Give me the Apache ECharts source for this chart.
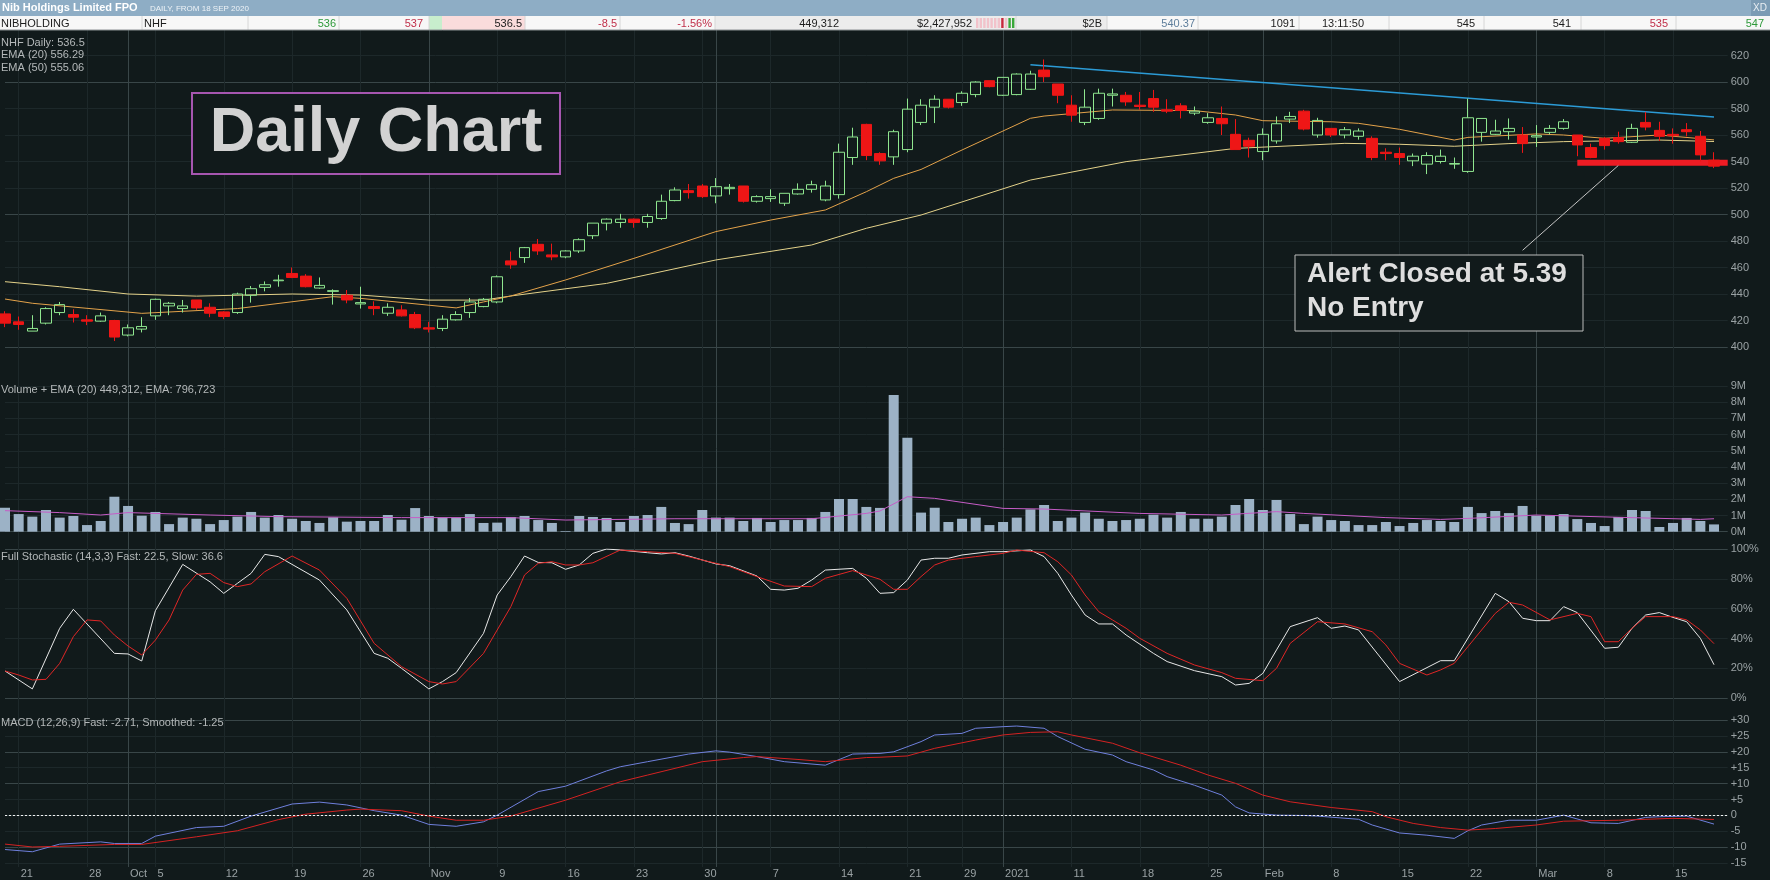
<!DOCTYPE html>
<html>
<head>
<meta charset="utf-8">
<title>NHF Daily Chart</title>
<script src="https://cdn.jsdelivr.net/npm/echarts@6.0.0/dist/echarts.min.js"></script>
<style>
  html, body { margin: 0; padding: 0; background: #111a1b; }
  #chart { width: 1770px; height: 880px; }
</style>
</head>
<body>
<div id="chart"></div>
<script>
// trading days, 18 Sep 2020 - 18 Mar 2021
var dates = [
  '2020-09-18','2020-09-21','2020-09-22','2020-09-23','2020-09-24','2020-09-25','2020-09-28','2020-09-29','2020-09-30',
  '2020-10-01','2020-10-02','2020-10-05','2020-10-06','2020-10-07','2020-10-08','2020-10-09','2020-10-12','2020-10-13','2020-10-14','2020-10-15','2020-10-16',
  '2020-10-19','2020-10-20','2020-10-21','2020-10-22','2020-10-23','2020-10-26','2020-10-27','2020-10-28','2020-10-29','2020-10-30',
  '2020-11-02','2020-11-03','2020-11-04','2020-11-05','2020-11-06','2020-11-09','2020-11-10','2020-11-11','2020-11-12','2020-11-13',
  '2020-11-16','2020-11-17','2020-11-18','2020-11-19','2020-11-20','2020-11-23','2020-11-24','2020-11-25','2020-11-26','2020-11-27','2020-11-30',
  '2020-12-01','2020-12-02','2020-12-03','2020-12-04','2020-12-07','2020-12-08','2020-12-09','2020-12-10','2020-12-11',
  '2020-12-14','2020-12-15','2020-12-16','2020-12-17','2020-12-18','2020-12-21','2020-12-22','2020-12-23','2020-12-24','2020-12-29','2020-12-30','2020-12-31',
  '2021-01-04','2021-01-05','2021-01-06','2021-01-07','2021-01-08','2021-01-11','2021-01-12','2021-01-13','2021-01-14','2021-01-15',
  '2021-01-18','2021-01-19','2021-01-20','2021-01-21','2021-01-22','2021-01-25','2021-01-27','2021-01-28','2021-01-29',
  '2021-02-01','2021-02-02','2021-02-03','2021-02-04','2021-02-05','2021-02-08','2021-02-09','2021-02-10','2021-02-11','2021-02-12',
  '2021-02-15','2021-02-16','2021-02-17','2021-02-18','2021-02-19','2021-02-22','2021-02-23','2021-02-24','2021-02-25','2021-02-26',
  '2021-03-01','2021-03-02','2021-03-03','2021-03-04','2021-03-05','2021-03-08','2021-03-09','2021-03-10','2021-03-11','2021-03-12',
  '2021-03-15','2021-03-16','2021-03-17','2021-03-18'
];

var opens = [425,419,412,418,426,424.5,420.5,419.5,420,409,
  413.5,423.5,431,429,435.5,430,426.5,426,439,445,
  450,455.5,453.5,444.5,442,439,432.5,430.5,425.5,428,
  424.5,414.5,414,420.5,426,430.5,434,465,467.5,477.5,
  469.5,468,472.5,484,493.5,494,496.5,494,497,510.5,
  518,521.5,514,519.5,521.5,510,512,508.5,515.5,519,
  511,515,543,568,546,543.5,549,569.5,581,587,
  584.5,590.5,601,590,590.5,594.5,609,598.5,582.5,569.5,
  572.5,590,590,582.5,587.5,579,582,576.5,569.5,572.5,
  560.5,556,547.5,555.5,572,578,560,565,560,559,
  557.5,547,546,540.5,538,540,538,532.5,562,560.5,
  562.5,560,558.5,562,565,560,550.5,557.5,558,554.5,
  569.5,563.5,560.5,564,559,541];
var highs = [427,423,424,430,434,428.5,424,426,420.5,417,
  422.5,436.5,434,435.5,435.5,433,427,441,446,449.5,
  454.5,460,455,452.5,443.5,443,445.5,434.5,433,431.5,
  426.5,419,424,427,437,437,454,472,475.5,481.5,
  478,473,482,493.5,497,500.5,497,500.5,515,520.5,
  523,523,527.5,523,521.5,514.5,519,516,523.5,525.5,
  525.5,553.5,565.5,568.5,547,564,587.5,587,590,587,
  593,600.5,601,603.5,606.5,608.5,617,598.5,590,594.5,
  595,595,592.5,592.5,594,587,584,581.5,576.5,581.5,
  572,558,565,574,577.5,579,573,565,566,565,
  559,550,550.5,546,547,549,543,587.5,572.5,571.5,
  572.5,566,567.5,567.5,572,560,553.5,558.5,562.5,568.5,
  577.5,570,565,569,563,547];
var lows = [415,413,412,417,424,418.5,416.5,419,404.5,408,
  411,420.5,424,426,428,422.5,421,425,433.5,442,
  445.5,452,445,444,432,433,429,424,423.5,423,
  413.5,411,412,420,422,430,433,459,463.5,469.5,
  465.5,467,471,481.5,488,490,490,490,496,510,
  512,512.5,508.5,515,509,509,509.5,506.5,515,516.5,
  510,512,537.5,541,537.5,537.5,547,567.5,569,580,
  582,588.5,596,589.5,590,594,600,584,570,567.5,
  571.5,581.5,582,579,577.5,576.5,572.5,575,568.5,560,
  549,543,541,553.5,569,563.5,558,558.5,557.5,556.5,
  541,541,537.5,536.5,530.5,538.5,534.5,531.5,555,560,
  556.5,546.5,551,560.5,564,544,542.5,549,553.5,554,
  563.5,555.5,553.5,559,540,535];
var closes = [418,417,414,429,432,422.5,419.5,423.5,407.5,414.5,
  415.5,436,433,431,429.5,425.5,423,440,444,447,
  450.5,452.5,445.5,446.5,442.5,435.5,433.5,429,430,423.5,
  414.5,413.5,421,424.5,434,436,453,462,475,472.5,
  468,472.5,481,493.5,496.5,496.5,494,498.5,510,518.5,
  516.5,513.5,521,520.5,510,513.5,513.5,516,519,522.5,
  521.5,547,558.5,544.5,540.5,562.5,579.5,582.5,587,581,
  591.5,600,596.5,603.5,606,606,604,590,575,581,
  591.5,591,585,581.5,581,578,578.5,578,573,568.5,
  549,551.5,560.5,568.5,574,564.5,571,560,564,563,
  543,546,543,544,544.5,544,538.5,573,572.5,563,
  565,553.5,559.5,565,570,552.5,543,552,555,565,
  566,559,559.5,562.5,545,536.5];

// volume, millions of shares
var volumes = [1.48,1.09,0.93,1.34,0.87,0.97,0.41,0.66,2.16,1.59,
  0.99,1.22,0.47,0.87,0.80,0.47,0.72,0.93,1.22,0.87,
  1.03,0.80,0.66,0.54,0.89,0.62,0.66,0.66,1.03,0.74,
  1.46,0.97,0.87,0.87,1.09,0.54,0.56,0.91,0.97,0.72,
  0.54,0.04,0.97,0.91,0.85,0.60,0.97,1.03,1.53,0.54,
  0.47,1.34,0.87,0.87,0.66,0.85,0.60,0.72,0.72,0.85,
  1.22,2.02,2.02,1.53,1.47,8.45,5.81,1.18,1.48,0.60,
  0.80,0.87,0.41,0.60,0.87,1.38,1.65,0.66,0.87,1.18,
  0.80,0.66,0.72,0.80,1.05,0.87,1.22,0.80,0.80,0.93,
  1.65,2.02,1.34,1.96,1.09,0.47,0.93,0.72,0.66,0.41,
  0.41,0.60,0.35,0.54,0.72,0.66,0.60,1.53,1.15,1.28,
  1.15,1.59,0.99,0.99,1.09,0.78,0.54,0.35,0.91,1.34,
  1.28,0.29,0.54,0.85,0.66,0.45];

// indicator lines: [day index, value]
var ema20 = [[0,436.2],[2,433],[10,425.4],[17,429],[24,438],[26,436.7],[33,429.5],[35,434],[37,438.5],
  [41,450.6],[46,466.9],[52,487.1],[56,495.8],[60,503.4],[63,517.2],[65,527.3],[67,534],[70,548.7],
  [75,572.6],[76,574.3],[81,578.9],[87,578.4],[90,575.1],[92,570.8],[97,570],[99,568.8],[102,564.3],
  [106,556.2],[107,558.2],[112,560.8],[114,560],[117,557.5],[121,560],[125,556.3]];
var ema50 = [[0,449.3],[4,445.5],[9,440],[14,438.4],[21,440],[26,439.2],[31,435.4],[35,435.4],[37,438.5],
  [44,448],[52,465.7],[59,477],[63,489.6],[67,499.6],[75,526],[82,539.9],[90,549.9],[98,553.7],
  [102,553],[106,551.5],[110,553.5],[114,555],[121,556.2],[125,555.1]];
var volEma = [[0,1.30],[4,1.18],[7,1.03],[9,1.18],[15,1.03],[20,0.93],[29,0.87],[37,0.87],[41,0.72],
  [49,0.80],[59,0.80],[63,1.13],[64,1.28],[66,2.16],[68,2.06],[73,1.44],[76,1.40],[83,1.13],[89,1.03],
  [93,1.24],[95,1.13],[101,0.87],[105,0.76],[107,0.82],[112,1.03],[118,0.89],[124,0.76],[125,0.80]];
var stochFast = [[0,18.3],[2,6.3],[4,46.9],[5,59.6],[8,30.1],[9,29.7],[10,25],[11,58.7],[13,89.7],[15,78],
  [16,70.3],[17,77],[18,83.7],[19,96.4],[20,94.9],[23,79.2],[25,59.2],[27,30.1],[28,26.8],[29,20.1],
  [31,6.3],[32,11.2],[33,17.2],[35,43.5],[36,69.2],[37,81.5],[38,95.3],[39,91],[40,90.8],[41,86.4],
  [42,89.3],[43,97.1],[44,100],[45,99.3],[47,97.5],[48,96.7],[49,97.5],[50,95.3],[52,90],[53,88.8],
  [55,81.9],[56,73],[57,72.5],[58,73.7],[59,79.2],[60,85.9],[62,87],[63,80.4],[64,70.3],[65,70.8],
  [66,79.2],[67,92.6],[68,93.8],[69,93.8],[70,96],[72,98.2],[73,98.2],[75,99.3],[76,94.9],[77,83.7],
  [78,69.2],[79,55.8],[80,49.8],[81,49.8],[82,42.4],[84,30.1],[85,24.6],[87,18.5],[89,14.5],[90,8.9],
  [91,10],[92,16.7],[93,32.4],[94,48],[96,54],[97,46.9],[98,48.4],[99,45.8],[102,11.2],[105,25.2],
  [106,25.2],[109,70.3],[110,64.7],[111,53.6],[112,52],[113,52],[114,61.4],[115,57.4],[117,33.5],
  [118,34.2],[119,46.9],[120,55.8],[121,57.4],[122,54.2],[123,51.3],[124,40.2],[125,22.5]];
var stochSlow = [[0,18.3],[1,15.6],[2,12.3],[3,12.7],[4,23.4],[5,41.3],[6,52.5],[7,51.8],[8,42.4],[9,35],
  [10,29],[11,39],[12,52.5],[13,72.5],[14,83],[15,83.7],[16,77.5],[17,74.8],[18,76.6],[19,84.8],
  [21,95.3],[23,85.9],[25,67],[27,36.8],[29,21.2],[31,11.2],[32,9.6],[33,11.2],[35,30.1],[37,61.4],
  [38,82.6],[39,90.4],[40,91.5],[41,89.3],[42,89.3],[43,90.8],[45,99.3],[47,98.2],[49,97.1],[51,92.6],
  [53,88.2],[55,81.5],[57,75.2],[59,74.8],[60,80.4],[62,85.5],[64,79.7],[65,73],[66,73],[67,81.5],
  [68,89.3],[69,92.6],[71,94.9],[73,97.1],[74,99.3],[76,97.5],[77,91.5],[78,82.6],[79,69.2],[80,58],
  [81,52.5],[82,46.9],[83,40.2],[85,30.1],[87,22.3],[89,17.2],[90,13.4],[92,11.8],[93,20.1],[94,36.8],
  [96,51.3],[98,49.8],[100,44.6],[101,35.7],[102,23.4],[104,15.6],[105,19],[106,23.4],[107,34.6],
  [109,56.9],[110,64.3],[111,62.5],[113,52.5],[115,56.9],[116,54.7],[117,37.9],[118,37.9],[119,46.9],
  [120,54.7],[122,54.7],[123,52.5],[124,45.8],[125,36.6]];
var macdFast = [[0,-10.7],[2,-11.4],[4,-9],[7,-8.3],[8,-8.8],[10,-8.8],[11,-6.5],[14,-3.8],[16,-3.4],
  [18,-0.2],[21,3.6],[23,4.2],[25,3.3],[27,1.5],[29,0.1],[31,-2.8],[33,-3.4],[35,-2],[36,0.1],[39,7.5],
  [41,9.2],[44,14],[45,15.3],[47,16.9],[50,19.3],[52,20.3],[53,19.9],[55,18.5],[57,16.9],[60,15.8],
  [62,19.3],[64,19.5],[65,20],[67,23.2],[68,25.3],[70,25.8],[71,27.4],[73,27.9],[74,28.1],[76,27.4],
  [77,24.8],[79,20.8],[81,19],[82,16.9],[84,14.3],[85,12.2],[87,9.5],[89,6.4],[90,2.7],[91,0.8],
  [93,0.1],[95,0],[96,-0.2],[99,-1.2],[100,-3],[102,-5.5],[104,-6.2],[106,-7.2],[107,-4.8],[108,-3],
  [110,-1.5],[112,-1.5],[114,0.1],[116,-2.3],[118,-2.5],[120,-0.6],[121,-0.4],[123,-0.2],[125,-2.71]];
var macdSlow = [[0,-9],[2,-9.9],[4,-9.7],[8,-9.1],[10,-9.1],[14,-6.7],[17,-4.8],[20,-1.3],[22,0.4],
  [25,1.7],[26,2],[29,1.5],[31,-0.2],[33,-1.5],[35,-1.5],[37,-0.2],[41,4.8],[45,10.6],[47,12.7],
  [51,16.9],[54,18.2],[55,18.5],[58,17.6],[60,16.9],[63,18.2],[64,18.3],[66,18.7],[68,21.1],[71,23.7],
  [73,25.3],[75,26.1],[77,26.3],[78,25.3],[81,22.7],[83,19.7],[86,15.8],[88,12.7],[90,10.1],[92,6.4],
  [94,4.3],[97,2.5],[100,1.2],[101,-0.4],[103,-2.5],[105,-3.8],[107,-4.6],[109,-4.1],[112,-3],
  [114,-1.8],[118,-1.5],[122,-0.9],[125,-1.25]];

// drawn annotations
var trendLine = [[75,613],[125,573.5]];
var alertLine = [[115,539],[126,539]];
var alertPointer = [[118,537],[111,473]];

// x axis ticks
var tickDates = ['2020-09-21','2020-09-28','2020-10-01','2020-10-05','2020-10-12','2020-10-19','2020-10-26',
  '2020-11-02','2020-11-09','2020-11-16','2020-11-23','2020-11-30','2020-12-07','2020-12-14','2020-12-21',
  '2020-12-29','2021-01-04','2021-01-11','2021-01-18','2021-01-25','2021-02-01','2021-02-08','2021-02-15',
  '2021-02-22','2021-03-01','2021-03-08','2021-03-15'];
var tickLabels = ['21','28','Oct','5','12','19','26','Nov','9','16','23','30','7','14','21',
  '29','2021','11','18','25','Feb','8','15','22','Mar','8','15'];
var monthStarts = ['2020-10-01','2020-11-02','2020-12-01','2021-01-04','2021-02-01','2021-03-01'];

var FONT = '"Liberation Sans Narrow", "Liberation Sans", sans-serif';
var bg = '#111a1b';
var gridFaint = '#1d282a';
var gridBright = '#394648';
var axisText = '#9aa2a4';
var upColor = '#8fe68f';
var downColor = '#ee1616';

var tickMap = {};
tickDates.forEach(function (d, i) { tickMap[d] = tickLabels[i]; });
var monthMap = {};
monthStarts.forEach(function (d) { monthMap[d] = true; });

var candles = dates.map(function (d, i) {
  return [opens[i], closes[i], lows[i], highs[i]];
});

var L = 5, R = 42.3;
var grids = [
  { left: L, right: R, top: 55.5, height: 291.5 },
  { left: L, right: R, top: 386, height: 145.7 },
  { left: L, right: R, top: 549, height: 149.3 },
  { left: L, right: R, top: 720, height: 143.2 },
  { left: L, right: R, top: 30, height: 837 }
];

function panelX(idx) {
  return { type: 'category', gridIndex: idx, data: dates, boundaryGap: false, min: 0, max: 126, show: false };
}

function panelY(idx, min, max, interval, colors, fmt) {
  return {
    type: 'value', gridIndex: idx, position: 'right', min: min, max: max, interval: interval,
    axisLine: { show: false }, axisTick: { show: false },
    axisLabel: { color: axisText, fontFamily: FONT, fontSize: 11, margin: 3, formatter: fmt },
    splitLine: { show: true, lineStyle: { color: colors, width: 1 } }
  };
}

function line(xi, data, color, width) {
  return {
    type: 'line', xAxisIndex: xi, yAxisIndex: xi, data: data, symbol: 'none', showSymbol: false,
    lineStyle: { color: color, width: width || 1 }, silent: true, z: 3
  };
}

function txt(x, y, s, color, font, align) {
  return {
    type: 'text', x: x, y: y, z: 100, silent: true,
    style: { text: s, fill: color, font: font, align: align || 'left', verticalAlign: 'middle',
      textAlign: align || 'left', textVerticalAlign: 'middle' }
  };
}

function rect(x, y, w, h, fill, stroke, lw) {
  return {
    type: 'rect', z: 99, silent: true, shape: { x: x, y: y, width: w, height: h },
    style: { fill: fill, stroke: stroke || null, lineWidth: lw || 0 }
  };
}

function vline(x, y1, y2, color) {
  return { type: 'line', z: 100, silent: true, shape: { x1: x, y1: y1, x2: x, y2: y2 }, style: { stroke: color, lineWidth: 1 } };
}

var small = '11px ' + FONT;
var dark = '#1c1c1c';
var header = [
  rect(0, 0, 1770, 16, '#8eadc5'),
  rect(1751, 0, 19, 16, '#7b9bb4'),
  txt(2, 8, 'Nib Holdings Limited FPO', '#ffffff', 'bold 11px ' + FONT),
  txt(150, 9, 'DAILY, FROM 18 SEP 2020', '#eef3f7', '8px ' + FONT),
  txt(1760, 8, 'XD', '#e8eef3', '10px ' + FONT, 'center'),
  rect(0, 16, 1770, 14, '#f7f7f7'),
  rect(429, 16, 13, 14, '#c8eecd'),
  rect(442, 16, 83, 14, '#fadcdc'),
  rect(715, 16, 392, 14, '#ececec'),
  vline(142, 16, 30, '#d6d6d6'), vline(248, 16, 30, '#d6d6d6'), vline(339, 16, 30, '#d6d6d6'),
  vline(429, 16, 30, '#d6d6d6'), vline(525, 16, 30, '#d6d6d6'), vline(620, 16, 30, '#d6d6d6'),
  vline(715, 16, 30, '#d6d6d6'), vline(1016, 16, 30, '#d6d6d6'), vline(1107, 16, 30, '#d6d6d6'),
  vline(1198, 16, 30, '#d6d6d6'), vline(1299, 16, 30, '#d6d6d6'), vline(1389, 16, 30, '#d6d6d6'),
  vline(1484, 16, 30, '#d6d6d6'), vline(1581, 16, 30, '#d6d6d6'), vline(1676, 16, 30, '#d6d6d6'),
  { type: 'line', z: 100, silent: true, shape: { x1: 0, y1: 30, x2: 1770, y2: 30 }, style: { stroke: '#8a8f92', lineWidth: 1 } },
  txt(1, 23.5, 'NIBHOLDING', dark, small),
  txt(144, 23.5, 'NHF', dark, small),
  txt(336, 23.5, '536', '#2e9a3a', small, 'right'),
  txt(423, 23.5, '537', '#c0304a', small, 'right'),
  txt(522, 23.5, '536.5', dark, small, 'right'),
  txt(617, 23.5, '-8.5', '#c0304a', small, 'right'),
  txt(712, 23.5, '-1.56%', '#c0304a', small, 'right'),
  txt(839, 23.5, '449,312', dark, small, 'right'),
  txt(972, 23.5, '$2,427,952', dark, small, 'right'),
  txt(1102, 23.5, '$2B', dark, small, 'right'),
  txt(1195, 23.5, '540.37', '#5f7f9c', small, 'right'),
  txt(1295, 23.5, '1091', dark, small, 'right'),
  txt(1364, 23.5, '13:11:50', dark, small, 'right'),
  txt(1475, 23.5, '545', dark, small, 'right'),
  txt(1571, 23.5, '541', dark, small, 'right'),
  txt(1668, 23.5, '535', '#c0304a', small, 'right'),
  txt(1764, 23.5, '547', '#2e9a3a', small, 'right')
];
['#f2c2ca','#f2c2ca','#f2c2ca','#f2c2ca','#f2c2ca','#f2c2ca','#f2c2ca','#c8283c','#f2c2ca','#3aa83a','#3aa83a']
  .forEach(function (c, k) { header.push(rect(976 + k * 3.6, 18, 2.4, 10, c)); });

var legendColor = '#b4b8b9';
var panelText = [
  txt(1, 43, 'NHF Daily: 536.5', legendColor, small),
  txt(1, 55, 'EMA (20) 556.29', legendColor, small),
  txt(1, 68, 'EMA (50) 555.06', legendColor, small),
  txt(1, 390, 'Volume + EMA (20) 449,312, EMA: 796,723', legendColor, small),
  txt(1, 556.5, 'Full Stochastic (14,3,3) Fast: 22.5, Slow: 36.6', legendColor, small),
  txt(1, 722.5, 'MACD (12,26,9) Fast: -2.71, Smoothed: -1.25', legendColor, small),
  rect(192, 93, 368, 81, bg, '#a656b0', 2),
  txt(376, 134, 'Daily Chart', '#d2d2d2', 'bold 63px "Liberation Sans", Arial, sans-serif', 'center'),
  rect(1295, 255, 288, 76, bg, '#bcbcbc', 1),
  txt(1307, 274, 'Alert Closed at 5.39', '#dedede', 'bold 28px "Liberation Sans", Arial, sans-serif'),
  txt(1307, 308, 'No Entry', '#dedede', 'bold 28px "Liberation Sans", Arial, sans-serif')
];

var option = {
  backgroundColor: bg,
  animation: false,
  grid: grids,
  xAxis: [
    panelX(0), panelX(1), panelX(2), panelX(3),
    {
      type: 'category', gridIndex: 4, data: dates, boundaryGap: false, min: 0, max: 126, position: 'bottom',
      axisLine: { show: false }, axisTick: { show: false },
      axisLabel: {
        interval: function (i, v) { return tickMap[v] !== undefined; },
        formatter: function (v) { return tickMap[v] || ''; },
        color: axisText, fontFamily: FONT, fontSize: 11, align: 'left', margin: 1, padding: [0, 0, 0, 2]
      },
      splitLine: {
        show: true,
        interval: function (i, v) { return tickMap[v] !== undefined; },
        lineStyle: { color: gridFaint, width: 1 }
      }
    },
    {
      type: 'category', gridIndex: 4, data: dates, boundaryGap: false, min: 0, max: 126,
      axisLine: { show: false }, axisTick: { show: false }, axisLabel: { show: false },
      splitLine: {
        show: true,
        interval: function (i, v) { return monthMap[v] === true; },
        lineStyle: { color: gridBright, width: 1 }
      }
    }
  ],
  yAxis: [
    panelY(0, 400, 620, 20, [gridBright, gridFaint, gridFaint, gridFaint, gridFaint]),
    panelY(1, 0, 9000000, 1000000, [gridBright, gridFaint, gridFaint, gridFaint, gridFaint, gridFaint, gridFaint, gridFaint, gridFaint, gridFaint],
      function (v) { return (v / 1000000) + 'M'; }),
    panelY(2, 0, 100, 20, [gridBright, gridFaint, gridFaint, gridFaint, gridFaint], '{value}%'),
    panelY(3, -15, 30, 5, [gridFaint, gridBright], function (v) { return v > 0 ? '+' + v : String(v); }),
    { type: 'value', gridIndex: 4, show: false, splitLine: { show: false } }
  ],
  series: [
    line(0, ema50, '#e4d28a'),
    line(0, ema20, '#e3a24a'),
    {
      type: 'candlestick', xAxisIndex: 0, yAxisIndex: 0, data: candles, barWidth: 11, clip: false, silent: true, z: 4,
      itemStyle: { color: 'rgba(0,0,0,0)', color0: downColor, borderColor: upColor, borderColor0: downColor, borderWidth: 1 }
    },
    line(0, trendLine, '#2c9bd6', 1.5),
    line(0, alertLine, '#ee1c24', 6),
    line(0, alertPointer, '#c4c4c4', 1),
    {
      type: 'bar', xAxisIndex: 1, yAxisIndex: 1, barWidth: 10, clip: false, silent: true,
      data: volumes.map(function (v) { return v * 1000000; }),
      itemStyle: { color: '#9cb2c6' }
    },
    line(1, volEma.map(function (p) { return [p[0], p[1] * 1000000]; }), '#c65cc6'),
    line(2, stochFast, '#e8e8e8'),
    line(2, stochSlow, '#e02626'),
    line(3, macdFast, '#6f80dc'),
    (function () {
      var s = line(3, macdSlow, '#d42222');
      s.markLine = {
        silent: true, symbol: 'none', label: { show: false },
        lineStyle: { color: '#f2f2f2', type: [2, 2], width: 1 },
        data: [{ yAxis: 0 }]
      };
      return s;
    })()
  ],
  graphic: header.concat(panelText)
};

var chart = echarts.init(document.getElementById('chart'));
chart.setOption(option);
</script>
</body>
</html>
